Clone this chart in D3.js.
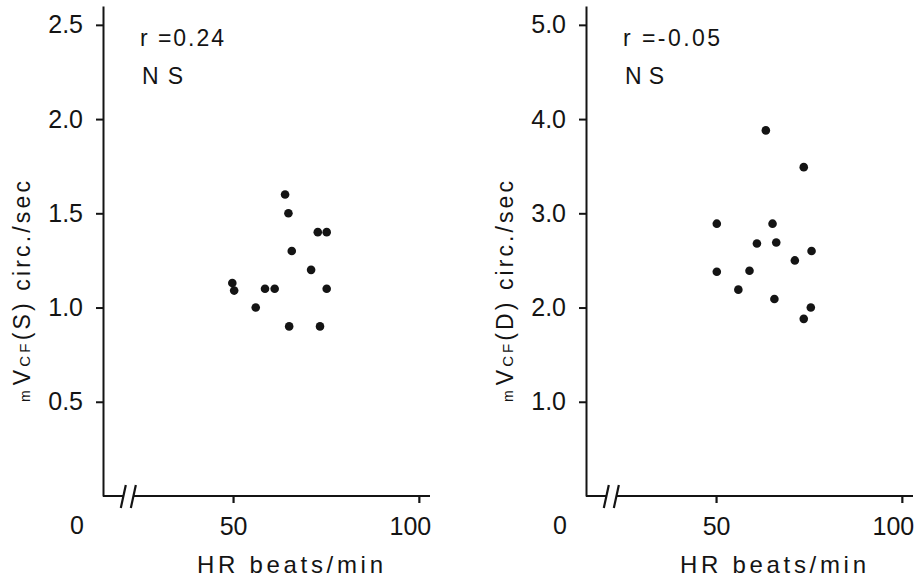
<!DOCTYPE html>
<html><head><meta charset="utf-8">
<script src="https://cdn.jsdelivr.net/npm/d3@7"></script>
<style>
html,body{margin:0;padding:0;background:#fff;}
svg{display:block;}
text{font-family:"Liberation Sans",Arial,sans-serif;fill:#141414;}
</style>
</head><body><svg id="c" width="923" height="581"></svg>
<script>
// Left panel: mVCF(S) vs HR
const hrS  = [64.0, 64.9, 72.8, 75.2, 65.8, 71.0, 49.8, 50.3, 58.6, 61.2, 75.2, 56.1, 65.1, 73.4];
const vcfS = [1.60, 1.50, 1.40, 1.40, 1.30, 1.20, 1.13, 1.09, 1.10, 1.10, 1.10, 1.00, 0.90, 0.90];
// Right panel: mVCF(D) vs HR
const hrD  = [63.4, 73.6, 50.2, 65.2, 61.0, 66.2, 75.7, 71.2, 50.2, 59.0, 56.0, 65.7, 75.5, 73.6];
const vcfD = [3.88, 3.49, 2.89, 2.89, 2.68, 2.69, 2.60, 2.50, 2.38, 2.39, 2.19, 2.09, 2.00, 1.88];

const xTickValues = [50, 100];
const xZeroLabel = "0";
const yTicksS = [0.5, 1.0, 1.5, 2.0, 2.5];
const yTicksD = [1.0, 2.0, 3.0, 4.0, 5.0];
const statsS = ["r =0.24", "N S"];
const statsD = ["r =-0.05", "N S"];
const xTitle = "HR beats/min";
const yTitleS = ["m", "V", "CF", "(S) circ./sec"];
const yTitleD = ["m", "V", "CF", "(D) circ./sec"];

const svg = d3.select("#c");
const ink = "#141414";

function panel(o) {
  const x = d3.scaleLinear().domain([15, 103]).range([o.ox + 103, o.ox + 430]);
  const y = d3.scaleLinear().domain([0, o.yMax]).range([496, 6]);
  const g = svg.append("g");

  // y axis
  const ya = g.append("g")
    .attr("transform", `translate(${x(15)},0)`)
    .call(d3.axisLeft(y).tickValues(o.yTicks).tickFormat(d3.format(".1f"))
      .tickSize(7).tickSizeOuter(0).tickPadding(13));
  ya.selectAll("path,line").attr("stroke", ink).attr("stroke-width", 2);
  ya.selectAll("text").attr("font-size", 25).attr("fill", ink)
    .style("font-family", '"Liberation Sans",Arial,sans-serif');

  // x axis (ticks + labels), domain drawn separately with break
  const xa = g.append("g")
    .attr("transform", `translate(0,496)`)
    .call(d3.axisBottom(x).tickValues(xTickValues).tickFormat(d3.format("d"))
      .tickSize(7).tickPadding(14));
  xa.select(".domain").remove();
  xa.selectAll("line").attr("stroke", ink).attr("stroke-width", 2.2);
  xa.selectAll("text").attr("font-size", 25).attr("fill", ink)
    .style("font-family", '"Liberation Sans",Arial,sans-serif')
    .attr("dx", d => d === 100 ? -9 : 0);

  const b1 = x(20.6), b2 = x(23.3);
  g.append("line").attr("x1", x(15)).attr("x2", b1).attr("y1", 496).attr("y2", 496)
    .attr("stroke", ink).attr("stroke-width", 2);
  g.append("line").attr("x1", b2).attr("x2", x(103)).attr("y1", 496).attr("y2", 496)
    .attr("stroke", ink).attr("stroke-width", 2);
  [b1, b2].forEach(bx => {
    g.append("line").attr("x1", bx - 3).attr("y1", 508).attr("x2", bx + 2).attr("y2", 485)
      .attr("stroke", ink).attr("stroke-width", 2.2);
  });

  // origin label
  g.append("text").attr("x", x(15) - 26).attr("y", 534).attr("text-anchor", "middle")
    .attr("font-size", 25).text(xZeroLabel);

  // x title
  g.append("text").attr("x", o.ox + 197).attr("y", 573)
    .attr("font-size", 24).attr("textLength", 186).attr("lengthAdjust", "spacing")
    .text(xTitle);

  // y title (rotated)
  const yt = g.append("text")
    .attr("transform", `translate(${o.ox + 30},402) rotate(-90)`)
    .attr("textLength", 221).attr("lengthAdjust", "spacing");
  yt.append("tspan").attr("font-size", 14).text(o.yTitle[0]);
  yt.append("tspan").attr("font-size", 23).attr("dx", 2).text(o.yTitle[1]);
  yt.append("tspan").attr("font-size", 15).text(o.yTitle[2]);
  yt.append("tspan").attr("font-size", 23).text(o.yTitle[3]);

  // stats
  g.append("text").attr("x", o.ox + 140).attr("y", 46).attr("font-size", 23)
    .attr("textLength", o.statsW[0]).attr("lengthAdjust", "spacing").text(o.stats[0]);
  g.append("text").attr("x", o.ox + 142).attr("y", 84).attr("font-size", 23)
    .attr("textLength", o.statsW[1]).attr("lengthAdjust", "spacing").text(o.stats[1]);

  // points
  g.append("g").selectAll("circle").data(o.hr.map((h, i) => [h, o.v[i]]))
    .join("circle")
    .attr("cx", d => x(d[0])).attr("cy", d => y(d[1]))
    .attr("r", 4.3).attr("fill", ink);
}

panel({ox: 0, hr: hrS, v: vcfS, yMax: 2.6, yTicks: yTicksS, stats: statsS, statsW: [84, 41], yTitle: yTitleS});
panel({ox: 483, hr: hrD, v: vcfD, yMax: 5.2, yTicks: yTicksD, stats: statsD, statsW: [97, 39], yTitle: yTitleD});
</script>
</body></html>
